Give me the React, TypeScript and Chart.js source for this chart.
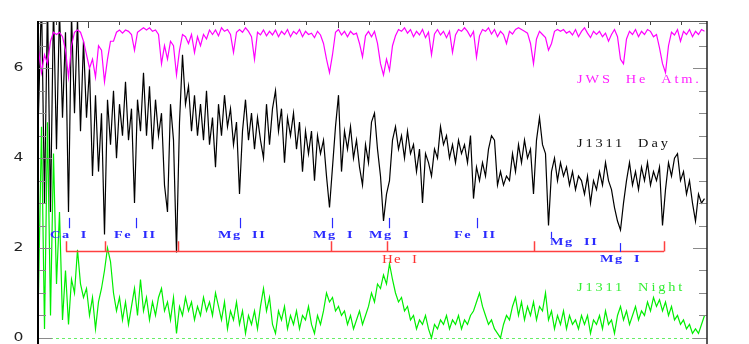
import React, { useEffect, useRef } from "react";
import { Chart, registerables } from "chart.js";

Chart.register(...registerables);

// wavelength sampling of the spectra (Angstrom)
const WAVE_START = 3804;
const WAVE_STEP = 12;
const X_MIN = 3802;
const X_MAX = 6478;
const Y_MIN = -0.135;
const Y_MAX = 7.05;

// model: JWS He atmosphere
const atmFlux = [
  6.4, 5.9, 6.3, 6.1, 6.6, 6.8, 6.75, 6.8, 6.7, 6.4,
  5.8, 6.5, 6.8, 6.85, 6.8, 6.6, 6.3, 6.0, 6.2, 5.8,
  6.5, 6.4, 5.7, 6.2, 6.6, 6.6, 6.8, 6.85, 6.78, 6.85,
  6.82, 6.75, 6.4, 6.8, 6.85, 6.9, 6.85, 6.9, 6.82, 6.85,
  6.75, 6.1, 6.5, 6.2, 6.6, 6.5, 5.85, 6.4, 6.75, 6.7,
  6.55, 6.75, 6.35, 6.7, 6.5, 6.75, 6.65, 6.85, 6.75, 6.85,
  6.72, 6.9, 6.82, 6.86, 6.75, 6.35, 6.8, 6.86, 6.8, 6.9,
  6.82, 6.7, 6.2, 6.8, 6.74, 6.85, 6.72, 6.82, 6.74, 6.85,
  6.7, 6.82, 6.75, 6.86, 6.7, 6.82, 6.76, 6.86, 6.7, 6.82,
  6.75, 6.78, 6.68, 6.82, 6.74, 6.55, 6.2, 5.9, 6.3, 6.8,
  6.86, 6.74, 6.82, 6.7, 6.82, 6.75, 6.78, 6.55, 6.25, 6.72,
  6.82, 6.7, 6.82, 6.55, 6.1, 5.85, 6.2, 5.95, 6.5, 6.72,
  6.86, 6.82, 6.9, 6.78, 6.86, 6.7, 6.82, 6.74, 6.86, 6.68,
  6.8, 6.3, 6.76, 6.86, 6.74, 6.82, 6.68, 6.82, 6.35, 6.74,
  6.86, 6.82, 6.9, 6.82, 6.7, 6.82, 6.25, 6.72, 6.86, 6.82,
  6.9, 6.76, 6.86, 6.7, 6.82, 6.75, 6.55, 6.82, 6.76, 6.86,
  6.9, 6.86, 6.82, 6.78, 6.55, 6.1, 6.65, 6.82, 6.75, 6.68,
  6.4, 6.55, 6.82, 6.86, 6.82, 6.86, 6.78, 6.82, 6.74, 6.86,
  6.7, 6.82, 6.9, 6.78, 6.68, 6.82, 6.75, 6.82, 6.7, 6.78,
  6.6, 6.75, 6.86, 6.7, 6.2, 6.1, 6.65, 6.82, 6.75, 6.86,
  6.7, 6.82, 6.75, 6.86, 6.82, 6.7, 6.75, 6.45, 6.1, 5.9,
  6.5, 6.8, 6.74, 6.86, 6.6, 6.82, 6.75, 6.86, 6.7, 6.82,
  6.75, 6.86, 6.82,
];

// J1311 day-side spectrum
const dayFlux = [
  5.0, 7.6, 3.0, 7.5, 2.8, 7.4, 4.2, 7.3, 4.9, 6.8,
  2.8, 7.2, 5.0, 7.1, 4.6, 6.6, 4.9, 6.0, 3.6, 5.4,
  3.7, 5.0, 2.3, 5.3, 4.3, 5.5, 4.0, 5.2, 4.5, 5.7,
  4.4, 5.1, 3.0, 5.3, 4.6, 5.9, 4.5, 5.6, 4.2, 5.3,
  4.5, 5.0, 3.4, 2.8, 5.2, 4.4, 1.9, 4.8, 6.3, 5.2,
  5.6, 4.6, 5.4, 4.5, 5.2, 4.4, 5.5, 4.3, 4.9, 3.8,
  5.2, 4.5, 5.4, 4.7, 5.1, 4.3, 4.8, 3.2, 4.6, 5.3,
  4.4, 5.0, 4.2, 4.9, 4.4, 4.0, 5.2, 4.3, 5.1, 5.5,
  4.6, 5.1, 3.9, 4.9, 4.5, 5.0, 4.2, 4.8, 3.7, 4.6,
  4.1, 4.6, 3.5, 4.5, 4.1, 4.4, 3.6, 2.9, 3.8, 4.7,
  5.4, 3.7, 4.6, 4.2, 4.7, 4.0, 4.4, 3.8, 3.4, 4.3,
  3.9, 4.8, 5.0, 4.2, 3.6, 2.6, 3.2, 3.5, 4.4, 4.7,
  4.2, 4.5, 4.0, 4.6, 4.1, 4.3, 3.7, 4.2, 3.0, 4.1,
  3.9, 3.6, 4.2, 4.0, 4.7, 4.3, 4.5, 4.0, 4.3, 3.9,
  4.4, 4.1, 4.3, 3.9, 4.5, 3.1, 3.8, 3.5, 3.9, 3.6,
  4.2, 4.5, 4.4, 3.4, 3.7, 3.4, 3.6, 3.5, 4.1, 3.7,
  4.3, 3.9, 4.4, 4.0, 4.2, 3.2, 4.4, 4.9, 4.3, 4.1,
  2.5, 3.7, 4.0, 3.5, 3.9, 3.6, 3.8, 3.4, 3.7, 3.3,
  3.6, 3.5, 3.2, 3.6, 3.0, 3.5, 3.3, 3.7, 3.4, 3.9,
  3.5, 3.3, 2.9, 2.6, 2.4, 3.0, 3.5, 3.9, 3.4, 3.7,
  3.3, 3.8, 3.5, 3.9, 3.4, 3.7, 3.5, 3.8, 2.5, 3.3,
  3.9, 3.6, 4.0, 4.1, 3.5, 3.7, 3.2, 3.5, 3.0, 2.6,
  3.2, 3.0, 3.1,
];

// J1311 night-side spectrum
const nightFlux = [
  1.0, 4.7, 0.2, 4.8, 0.5, 4.1, 1.2, 2.8, 0.4, 1.5,
  0.3, 1.3, 1.0, 1.96, 1.2, 0.9, 1.1, 0.5, 0.9, 0.2,
  0.8, 1.1, 1.5, 2.0, 1.7, 1.0, 0.6, 0.9, 0.4, 0.8,
  0.3, 0.7, 1.1, 0.5, 1.3, 0.6, 0.9, 0.4, 0.8, 0.5,
  0.9, 1.1, 0.6, 0.8, 0.4, 0.9, 0.1, 0.7, 0.5, 0.9,
  0.6, 0.8, 0.4, 0.7, 0.5, 0.9, 0.6, 0.8, 0.5, 1.0,
  0.7, 0.4, 0.8, 0.2, 0.6, 0.4, 0.8, 0.3, 0.6, 0.1,
  0.5, 0.3, 0.6, 0.2, 0.7, 1.1, 0.6, 0.9, 0.3, 0.1,
  0.6, 0.4, 0.7, 0.2, 0.5, 0.3, 0.6, 0.2, 0.5, 0.4,
  0.7, 0.3, 0.1, 0.5, 0.3, 0.6, 1.0, 0.8, 0.9, 0.6,
  0.7, 0.5, 0.6, 0.3, 0.5, 0.2, 0.4, 0.6, 0.3, 0.5,
  0.7, 1.0, 0.8, 1.2, 1.1, 1.4, 1.2, 1.65, 1.3, 1.0,
  0.8, 0.9, 0.6, 0.7, 0.4, 0.5, 0.2, 0.4, 0.3, 0.5,
  0.2, 0.0, 0.3, 0.2, 0.4, 0.3, 0.5, 0.2, 0.4, 0.3,
  0.5, 0.2, 0.4, 0.3, 0.5, 0.6, 0.8, 1.0, 0.7, 0.5,
  0.3, 0.4, 0.2, 0.1, 0.0, 0.3, 0.5, 0.4, 0.7, 0.9,
  0.5, 0.8, 0.4, 0.7, 0.5, 0.8, 0.4, 0.7, 0.6, 1.0,
  0.4, 0.6, 0.2, 0.5, 0.3, 0.6, 0.2, 0.5, 0.3, 0.4,
  0.2, 0.5, 0.3, 0.5, 0.1, 0.4, 0.3, 0.5, 0.2, 0.6,
  0.3, 0.4, 0.1, 0.5, 0.7, 0.4, 0.6, 0.3, 0.5, 0.7,
  0.4, 0.6, 0.5, 0.8, 0.6, 0.9, 0.7, 0.85, 0.6, 0.8,
  0.5, 0.7, 0.4, 0.5, 0.3, 0.4, 0.2, 0.3, 0.1, 0.2,
  0.1, 0.3, 0.5,
];

const yTickValues = [0, 2, 4, 6];
const yTickLabels = ["0", "2", "4", "6"];

// He I line markers
const heWaves = [3914, 4070, 4362, 4974, 5198, 5786, 6306];
const heBarLevel = 1.93;
const heTickTop = 2.15;
const heLabel = "He  I";
const heLabelWave = 5178;
const heLabelLevel = 1.73;

// metal line markers
const metalNames = ["Ca  I", "Fe  II", "Mg  II", "Mg  I", "Mg  I", "Fe  II", "Mg  II", "Mg  I"];
const metalWaves = [3926, 4194, 4610, 4978, 5206, 5558, 5854, 6130];
const metalTickLow = [2.44, 2.44, 2.44, 2.44, 2.44, 2.44, 2.22, 1.91];
const metalTickHigh = [2.67, 2.67, 2.67, 2.67, 2.67, 2.67, 2.36, 2.11];
const metalLabelWave = [3850, 4106, 4522, 4902, 5126, 5466, 5850, 6050];
const metalLabelLevel = [2.29, 2.29, 2.29, 2.29, 2.29, 2.29, 2.13, 1.76];

const seriesNames = ["JWS  He  Atm.", "J1311  Day", "J1311  Night"];
const seriesColors = ["#ff00ff", "#000000", "#00ee00"];
const seriesTextColors = ["#ff22ff", "#111111", "#33ee33"];
const seriesLabelWave = 5958;
const seriesLabelLevel = [5.73, 4.31, 1.11];

function toPoints(arr: number[]) {
  return arr.map((v, i) => ({ x: WAVE_START + i * WAVE_STEP, y: v }));
}

function drawText(ctx: CanvasRenderingContext2D, text: string, x: number, y: number, font: string, color: string, sx: number, spacing: number, align: "left" | "center") {
  ctx.save();
  ctx.font = font;
  (ctx as any).letterSpacing = spacing + "px";
  ctx.fillStyle = color;
  ctx.textBaseline = "middle";
  ctx.textAlign = "left";
  ctx.translate(x, y);
  ctx.scale(sx, 1);
  let ox = 0;
  if (align === "center") ox = -ctx.measureText(text).width / 2;
  ctx.fillText(text, ox, 0);
  ctx.restore();
}

const decorPlugin = {
  id: "decor",
  beforeDatasetsDraw(chart: any) {
    const { ctx, chartArea: a, scales } = chart;
    const y = scales.y;
    ctx.save();
    ctx.strokeStyle = "#66ee66";
    ctx.lineWidth = 1;
    ctx.setLineDash([3, 3]);
    const y0 = Math.round(y.getPixelForValue(0)) + 0.5;
    ctx.beginPath();
    ctx.moveTo(a.left, y0);
    ctx.lineTo(a.right, y0);
    ctx.stroke();
    ctx.restore();
  },
  afterDatasetsDraw(chart: any) {
    const { ctx, chartArea: a, scales } = chart;
    const x = scales.x;
    const y = scales.y;
    ctx.save();
    // side ticks
    ctx.lineWidth = 1;
    ctx.strokeStyle = "#8a8a8a";
    for (let v = 0; v <= 7.001; v += 0.5) {
      const py = Math.round(y.getPixelForValue(v)) + 0.5;
      const len = Math.abs(v % 2) < 1e-6 ? 14 : 8;
      ctx.beginPath();
      ctx.moveTo(a.left, py);
      ctx.lineTo(a.left + len, py);
      ctx.moveTo(a.right - len, py);
      ctx.lineTo(a.right, py);
      ctx.stroke();
    }
    // top ticks
    ctx.strokeStyle = "#444";
    for (let w = 3875; w <= X_MAX; w += 125) {
      const px = Math.round(x.getPixelForValue(w)) + 0.5;
      const len = w % 1000 === 0 ? 7 : 4;
      ctx.beginPath();
      ctx.moveTo(px, a.top);
      ctx.lineTo(px, a.top + len);
      ctx.stroke();
    }
    // frame
    ctx.strokeStyle = "#555";
    ctx.lineWidth = 1;
    ctx.beginPath();
    ctx.moveTo(a.left, a.top + 0.5);
    ctx.lineTo(a.right, a.top + 0.5);
    ctx.stroke();
    ctx.strokeStyle = "#000";
    ctx.lineWidth = 2;
    ctx.beginPath();
    ctx.moveTo(a.left, a.top);
    ctx.lineTo(a.left, a.bottom);
    ctx.stroke();
    ctx.strokeStyle = "#222";
    ctx.lineWidth = 1.5;
    ctx.beginPath();
    ctx.moveTo(a.right, a.top);
    ctx.lineTo(a.right, a.bottom);
    ctx.stroke();

    // y tick labels
    yTickValues.forEach((v, i) => {
      drawText(ctx, yTickLabels[i], 18.5, y.getPixelForValue(v), '12px "DejaVu Sans"', "#222", 1.3, 0, "center");
    });

    // He I bracket
    ctx.strokeStyle = "#ff4040";
    ctx.lineWidth = 1.5;
    const hb = Math.round(y.getPixelForValue(heBarLevel)) + 0.5;
    const ht = y.getPixelForValue(heTickTop);
    ctx.beginPath();
    ctx.moveTo(x.getPixelForValue(heWaves[0]), hb);
    ctx.lineTo(x.getPixelForValue(heWaves[heWaves.length - 1]), hb);
    heWaves.forEach((w) => {
      const px = Math.round(x.getPixelForValue(w)) + 0.5;
      ctx.moveTo(px, hb);
      ctx.lineTo(px, ht);
    });
    ctx.stroke();
    drawText(ctx, heLabel, x.getPixelForValue(heLabelWave), y.getPixelForValue(heLabelLevel), '12px "Liberation Serif"', "#ff3030", 1.25, 1.0, "left");

    // metal lines
    ctx.strokeStyle = "#2a2aff";
    ctx.lineWidth = 1.2;
    metalWaves.forEach((w, i) => {
      const px = Math.round(x.getPixelForValue(w)) + 0.5;
      ctx.beginPath();
      ctx.moveTo(px, y.getPixelForValue(metalTickLow[i]));
      ctx.lineTo(px, y.getPixelForValue(metalTickHigh[i]));
      ctx.stroke();
      drawText(ctx, metalNames[i], x.getPixelForValue(metalLabelWave[i]), y.getPixelForValue(metalLabelLevel[i]), 'bold 11px "Liberation Serif"', "#2a2aff", 1.3, 1.2, "left");
    });

    // series labels
    seriesNames.forEach((n, i) => {
      drawText(ctx, n, x.getPixelForValue(seriesLabelWave), y.getPixelForValue(seriesLabelLevel[i]), '11.5px "Liberation Serif"', seriesTextColors[i], 1.25, 2.3, "left");
    });
    ctx.restore();
  },
};

export default function App() {
  const ref = useRef<HTMLCanvasElement | null>(null);
  useEffect(() => {
    if (!ref.current) return;
    const chart = new Chart(ref.current, {
      type: "line",
      data: {
        datasets: [
          { label: seriesNames[0], data: toPoints(atmFlux), borderColor: seriesColors[0], borderWidth: 1.2, pointRadius: 0, tension: 0 },
          { label: seriesNames[1], data: toPoints(dayFlux), borderColor: seriesColors[1], borderWidth: 1.2, pointRadius: 0, tension: 0 },
          { label: seriesNames[2], data: toPoints(nightFlux), borderColor: seriesColors[2], borderWidth: 1.2, pointRadius: 0, tension: 0 },
        ],
      },
      options: {
        animation: false,
        responsive: false,
        maintainAspectRatio: false,
        events: [],
        layout: { padding: { left: 38, right: 42, top: 21, bottom: 0 } },
        plugins: { legend: { display: false }, tooltip: { enabled: false } },
        scales: {
          x: { type: "linear", display: false, min: X_MIN, max: X_MAX },
          y: { type: "linear", display: false, min: Y_MIN, max: Y_MAX },
        },
      },
      plugins: [decorPlugin],
    } as any);
    return () => chart.destroy();
  }, []);
  return (
    <div style={{ position: "fixed", left: 0, top: 0, width: 749, height: 344, overflow: "hidden", background: "#fff" }}>
      <canvas ref={ref} width={749} height={344} style={{ display: "block", width: 749, height: 344 }} />
    </div>
  );
}
